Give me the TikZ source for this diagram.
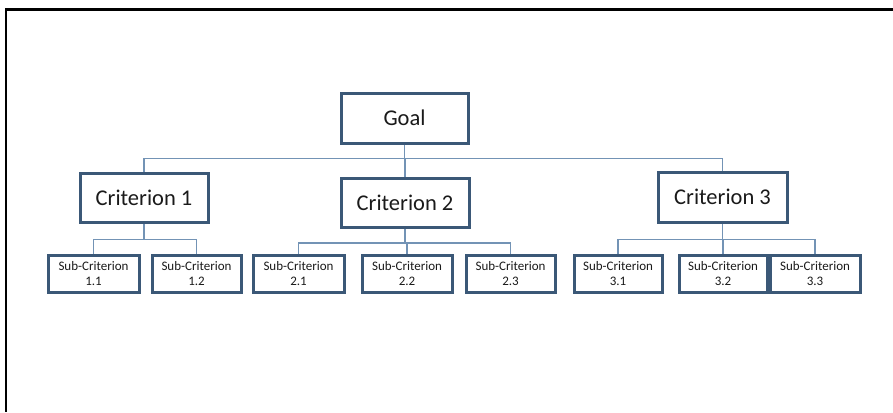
\documentclass[tikz,border=0pt]{standalone}
\usepackage{fontspec}
\setmainfont{Carlito}
\usetikzlibrary{backgrounds}
\definecolor{boxline}{HTML}{3B5877}
\definecolor{linkline}{HTML}{7393B5}
\definecolor{txt}{HTML}{1A1A1A}
\begin{document}
\begin{tikzpicture}[x=1pt,y=-1pt,
  box/.style={draw=boxline, line width=3pt, fill=white, inner sep=0pt, text=txt, align=center},
  goalbox/.style={box, minimum width=127pt, minimum height=50pt, font=\fontsize{22.5}{26}\selectfont},
  critbox/.style={box, minimum width=128pt, minimum height=49pt, font=\fontsize{22.5}{26}\selectfont},
  subbox/.style={box, minimum width=89pt, minimum height=37pt, font=\fontsize{13}{15.5}\selectfont},
  link/.style={draw=linkline, line width=1.3pt}]
\useasboundingbox (0,0) rectangle (893,412);
% page frame (top and left edges)
\draw[line width=2.2pt, black] (893,9.5) -- (6,9.5) -- (6,412);

% goal and criteria
\node[goalbox] (goal) at (404.5,118) {Goal};
\node[critbox] (c1) at (144,197.5) {Criterion 1};
\node[critbox] (c2) at (405,203) {Criterion 2};
\node[critbox, minimum width=129pt, minimum height=50pt] (c3) at (722.5,197) {Criterion 3};

% sub-criteria
\node[subbox, minimum width=91pt] (s11) at (93.5,273.5) {Sub-Criterion\\1.1};
\node[subbox] (s12) at (196.5,273.5) {Sub-Criterion\\1.2};
\node[subbox, minimum width=91pt] (s21) at (298.5,273.5) {Sub-Criterion\\2.1};
\node[subbox, minimum width=90pt] (s22) at (407,273.5) {Sub-Criterion\\2.2};
\node[subbox] (s23) at (510.5,273.5) {Sub-Criterion\\2.3};
\node[subbox, minimum width=88pt] (s31) at (618,273.5) {Sub-Criterion\\3.1};
\node[subbox, minimum width=88pt] (s32) at (723,273.5) {Sub-Criterion\\3.2};
\node[subbox, minimum width=90pt] (s33) at (815,273.5) {Sub-Criterion\\3.3};

% tree connectors, drawn behind the boxes
\begin{scope}[on background layer]
  \draw[link] (goal.south) -- ++(0,14) coordinate (b0) -| (c1.north);
  \draw[link] (b0) -| (c2.north);
  \draw[link] (b0) -| (c3.north);
  \draw[link] (c1.south) -- ++(0,16) coordinate (b1) -| (s11.north);
  \draw[link] (b1) -| (s12.north);
  \draw[link] (c2.south) -- ++(0,14) coordinate (b2) -| (s21.north);
  \draw[link] (b2) -| (s22.north);
  \draw[link] (b2) -| (s23.north);
  \draw[link] (c3.south) -- ++(0,16) coordinate (b3) -| (s31.north);
  \draw[link] (b3) -| (s32.north);
  \draw[link] (b3) -| (s33.north);
\end{scope}
\end{tikzpicture}
\end{document}
